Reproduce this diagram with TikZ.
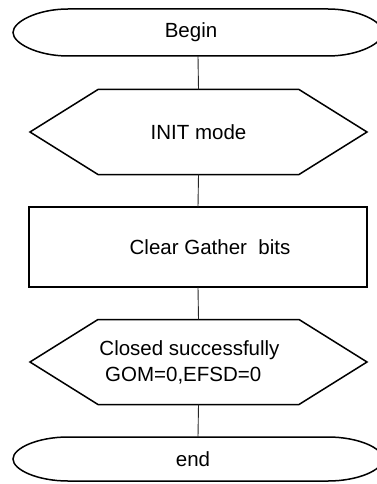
\documentclass[tikz,border=0pt]{standalone}
\usepackage{fontspec}
\setmainfont{Liberation Sans}
\begin{document}
\begin{tikzpicture}[x=1pt,y=-1pt,
  every node/.style={font=\fontsize{20.5}{26}\selectfont,inner sep=0pt,outer sep=0pt},
  terminal/.style={minimum width=370pt},
  hexnode/.style={minimum width=337pt,minimum height=85pt},
  procbox/.style={draw,line width=1.5pt,rectangle,minimum width=338pt,minimum height=80pt},
  shapeline/.style={line width=1.5pt,line join=miter},
  link/.style={line width=0.9pt,black!85}]
  \useasboundingbox (0,0) rectangle (377,484);
  % Begin
  \node[terminal,minimum height=47pt] (start) at (198,32.5) {Begin\hspace*{14pt}};
  % INIT mode
  \node[hexnode] (init) at (198.5,132) {INIT mode};
  % Clear
  \node[procbox] (proc) at (198,247) {\hspace*{24pt}Clear Gather\ \ bits};
  % Closed
  \node[hexnode,align=left] (closed) at (198.5,362) {Closed successfully\hspace*{18pt}\\\ GOM=0,EFSD=0};
  % end
  \node[terminal,minimum height=44pt] (stop) at (198,459) {end\hspace*{10pt}};
  % terminal outlines
  \foreach \n in {start,stop}
    \draw[shapeline] ([xshift=55pt]\n.north west) -- ([xshift=-55pt]\n.north east)
      .. controls ([xshift=-25pt]\n.north east) and ([yshift=11pt]\n.east) .. (\n.east)
      .. controls ([yshift=-11pt]\n.east) and ([xshift=-25pt]\n.south east) .. ([xshift=-55pt]\n.south east)
      -- ([xshift=55pt]\n.south west)
      .. controls ([xshift=25pt]\n.south west) and ([yshift=-11pt]\n.west) .. (\n.west)
      .. controls ([yshift=11pt]\n.west) and ([xshift=25pt]\n.north west) .. cycle;
  % hexagon outlines
  \foreach \n in {init,closed}
    \draw[shapeline] ([xshift=68pt]\n.north west) -- ([xshift=-68pt]\n.north east) -- (\n.east)
      -- ([xshift=-68pt]\n.south east) -- ([xshift=68pt]\n.south west) -- (\n.west) -- cycle;
  % links
  \foreach \a/\b in {start/init,init/proc,proc/closed,closed/stop}
    \draw[link] (\a.south) -- (\b.north);
\end{tikzpicture}
\end{document}
